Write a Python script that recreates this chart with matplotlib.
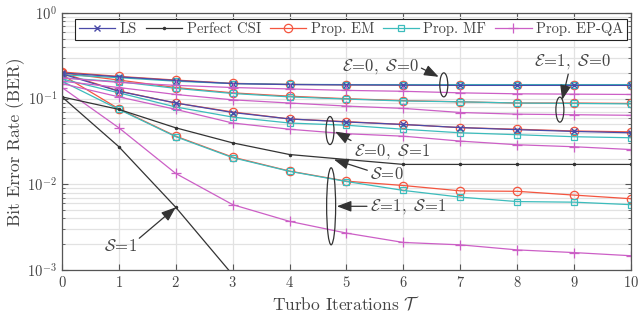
import matplotlib
matplotlib.use('Agg')
import matplotlib.pyplot as plt
from matplotlib.patches import Ellipse

# ---------------- data ----------------
iters = [0, 1, 2, 3, 4, 5, 6, 7, 8, 9, 10]

ls_e0s0 = [0.200, 0.180, 0.163, 0.150, 0.146, 0.145, 0.144, 0.143, 0.143, 0.143, 0.143]
ls_e0s1 = [0.195, 0.122, 0.089, 0.069, 0.058, 0.0535, 0.050, 0.046, 0.0435, 0.0415, 0.040]

em_e0s0 = [0.205, 0.182, 0.165, 0.151, 0.147, 0.145, 0.144, 0.143, 0.143, 0.143, 0.143]
em_e1s0 = [0.200, 0.165, 0.135, 0.117, 0.107, 0.100, 0.095, 0.092, 0.089, 0.089, 0.088]
em_e0s1 = [0.200, 0.123, 0.089, 0.070, 0.058, 0.054, 0.050, 0.046, 0.044, 0.042, 0.041]
em_e1s1 = [0.190, 0.076, 0.0365, 0.0208, 0.0143, 0.0109, 0.0097, 0.0084, 0.0083, 0.0075, 0.0068]

mf_e0s0 = [0.190, 0.176, 0.160, 0.150, 0.147, 0.146, 0.146, 0.146, 0.146, 0.146, 0.146]
mf_e1s0 = [0.175, 0.158, 0.132, 0.115, 0.105, 0.099, 0.094, 0.092, 0.089, 0.088, 0.087]
mf_e0s1 = [0.170, 0.117, 0.080, 0.061, 0.052, 0.049, 0.044, 0.040, 0.038, 0.036, 0.035]
mf_e1s1 = [0.160, 0.075, 0.036, 0.0205, 0.0142, 0.0108, 0.0085, 0.0071, 0.0063, 0.0062, 0.0058]

qa_e0s0 = [0.175, 0.155, 0.143, 0.135, 0.130, 0.125, 0.122, 0.117, 0.114, 0.113, 0.112]
qa_e1s0 = [0.160, 0.135, 0.112, 0.097, 0.089, 0.082, 0.077, 0.069, 0.066, 0.065, 0.064]
qa_e0s1 = [0.150, 0.105, 0.075, 0.052, 0.044, 0.039, 0.0365, 0.032, 0.029, 0.0275, 0.0255]
qa_e1s1 = [0.135, 0.0457, 0.0134, 0.0058, 0.0037, 0.0027, 0.0021, 0.00197, 0.00172, 0.0016, 0.00147]

csi_s0 = [0.105, 0.075, 0.0457, 0.0305, 0.0223, 0.0195, 0.0171, 0.0171, 0.0171, 0.0171, 0.0171]
csi_s1_iters = [0, 1, 2, 3, 4]
csi_s1 = [0.105, 0.0275, 0.0054, 0.00088, 0.00012]

legend_labels = ['LS', 'Perfect CSI', 'Prop. EM', 'Prop. MF', 'Prop. EP-QA']

# ---------------- style ----------------
plt.rcParams.update({
    'font.family': ['cmr10'],
    'mathtext.fontset': 'cm',
    'axes.formatter.use_mathtext': True,
    'axes.unicode_minus': False,
})

C_LS = '#4a4aa8'
C_CSI = '#333333'
C_EM = '#f4553f'
C_MF = '#3cbcbc'
C_QA = '#cc5fc6'
TXT = '#444444'

fig = plt.figure(figsize=(6.39, 3.25), dpi=100)
ax = fig.add_axes([0.097, 0.169, 0.8905, 0.791])

lw = 0.9
for s in [em_e0s0, em_e1s0, em_e0s1, em_e1s1]:
    ax.plot(iters, s, color=C_EM, lw=lw, marker='o', ms=6, mfc='none', mew=0.9)
for s in [mf_e0s0, mf_e1s0, mf_e0s1, mf_e1s1]:
    ax.plot(iters, s, color=C_MF, lw=lw, marker='s', ms=5, mfc='none', mew=0.9)
for s in [ls_e0s0, ls_e0s1]:
    ax.plot(iters, s, color=C_LS, lw=lw, marker='x', ms=5, mew=1.0)
for s in [qa_e0s0, qa_e1s0, qa_e0s1, qa_e1s1]:
    ax.plot(iters, s, color=C_QA, lw=lw, marker='+', ms=7, mew=0.9)
ax.plot(iters, csi_s0, color=C_CSI, lw=lw, marker='.', ms=3)
ax.plot(csi_s1_iters, csi_s1, color=C_CSI, lw=lw, marker='.', ms=3)

ax.set_yscale('log')
ax.set_xlim(0, 10)
ax.set_ylim(1e-3, 1)
ax.set_xticks(iters)

ax.grid(True, which='major', color='#e2e2e2', lw=0.9)
ax.yaxis.grid(True, which='minor', color='#e2e2e2', lw=0.9)
ax.set_axisbelow(True)
ax.tick_params(which='both', direction='in', top=True, right=True, colors='#555555',
               labelcolor=TXT, labelsize=10.5)
ax.tick_params(which='major', length=4)
ax.tick_params(which='minor', length=2)
for sp in ax.spines.values():
    sp.set_color('#555555')
    sp.set_linewidth(0.9)

ax.set_xlabel(r'Turbo Iterations $\mathcal{T}$', fontsize=12.5, color=TXT, labelpad=4)
ax.set_ylabel('Bit Error Rate (BER)', fontsize=12.5, color=TXT, labelpad=2)

# legend
h_ls, = ax.plot([], [], color=C_LS, lw=lw, marker='x', ms=5, mew=1.0)
h_csi, = ax.plot([], [], color=C_CSI, lw=lw, marker='.', ms=3)
h_em, = ax.plot([], [], color=C_EM, lw=lw, marker='o', ms=6, mfc='none', mew=0.9)
h_mf, = ax.plot([], [], color=C_MF, lw=lw, marker='s', ms=5, mfc='none', mew=0.9)
h_qa, = ax.plot([], [], color=C_QA, lw=lw, marker='+', ms=7, mew=0.9)
leg = ax.legend([h_ls, h_csi, h_em, h_mf, h_qa], legend_labels, ncol=5,
                loc='upper center', bbox_to_anchor=(0.508, 0.978), fontsize=10.5,
                frameon=True, fancybox=False, framealpha=1, edgecolor='#222222',
                handlelength=2.5, handletextpad=0.3, columnspacing=0.6,
                borderpad=0.25, borderaxespad=0.0)
leg.get_frame().set_linewidth(0.8)
for t in leg.get_texts():
    t.set_color(TXT)

# ---------------- annotations ----------------
fig.canvas.draw()
ax_w = ax.get_window_extent().width
ax_h = ax.get_window_extent().height


def add_ellipse(x, y, w_px, h_px):
    cx, cy = ax.transAxes.inverted().transform(ax.transData.transform((x, y)))
    e = Ellipse((cx, cy), w_px / ax_w, h_px / ax_h, transform=ax.transAxes,
                fill=False, edgecolor='#333333', lw=0.9, zorder=5)
    ax.add_patch(e)


add_ellipse(6.71, 0.145, 8, 24)
add_ellipse(8.75, 0.0745, 8, 25)
add_ellipse(4.71, 0.0425, 8, 28)
add_ellipse(4.73, 0.00555, 9, 77)

arrow_kw = dict(arrowstyle='-|>,head_length=0.8,head_width=0.3', color='#333333',
                lw=0.9, shrinkA=0, shrinkB=0, mutation_scale=11)


def note(text, xy, xytext, relpos):
    kw = dict(arrow_kw)
    kw['relpos'] = relpos
    ax.annotate(text, xy=xy, xytext=xytext, xycoords='data', textcoords='data',
                ha='center', va='center', fontsize=12, color=TXT,
                arrowprops=kw, zorder=6)


note(r'$\mathcal{E}\!=\!0,\ \mathcal{S}\!=\!0$', (6.62, 0.18), (5.59, 0.236), (1.0, 0.5))
note(r'$\mathcal{E}\!=\!1,\ \mathcal{S}\!=\!0$', (8.79, 0.097), (8.98, 0.269), (0.45, 0.05))
note(r'$\mathcal{E}\!=\!0,\ \mathcal{S}\!=\!1$', (4.80, 0.0413), (5.80, 0.0242), (0.02, 0.95))
note(r'$\mathcal{S}\!=\!0$', (4.78, 0.0195), (5.71, 0.0131), (0.0, 0.7))
note(r'$\mathcal{E}\!=\!1,\ \mathcal{S}\!=\!1$', (4.83, 0.00555), (6.08, 0.00555), (0.0, 0.5))
note(r'$\mathcal{S}\!=\!1$', (2.0, 0.0054), (1.02, 0.0019), (1.0, 0.85))

fig.savefig('out.png', dpi=100)
